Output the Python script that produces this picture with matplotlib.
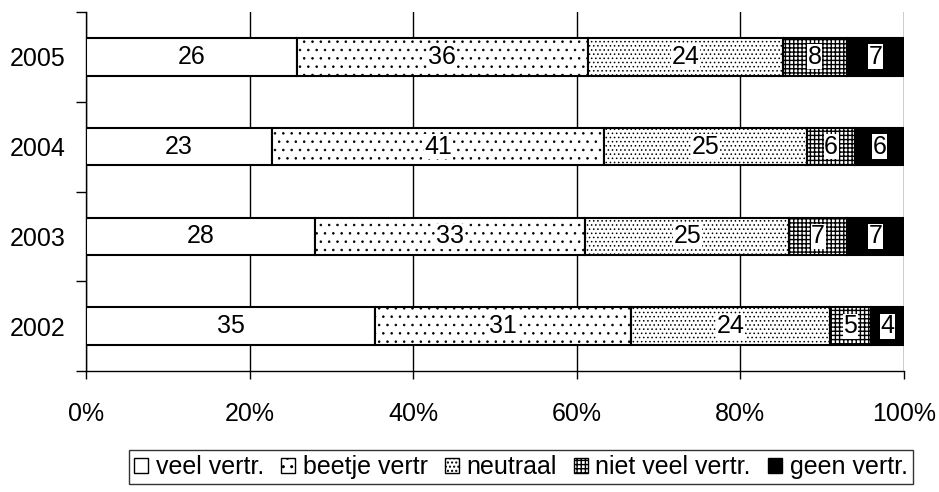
import numpy as np
import matplotlib
matplotlib.use("Agg")
import matplotlib.pyplot as plt
from matplotlib.patches import Patch

plt.rcParams["font.family"] = ["Liberation Sans", "DejaVu Sans"]

years = ["2002", "2003", "2004", "2005"]
categories = ["veel vertr.", "beetje vertr", "neutraal", "niet veel vertr.", "geen vertr."]
veel = [35, 28, 23, 26]
beetje = [31, 33, 41, 36]
neutraal = [24, 25, 25, 24]
niet_veel = [5, 7, 6, 8]
geen = [4, 7, 6, 7]

series = [veel, beetje, neutraal, niet_veel, geen]
colors = ["white", "white", "white", "white", "black"]
hatches = [None, "..", "....", "++++", None]
hatch_lw = [1.0, 0.6, 0.6, 1.0, 1.0]

FS = 18

fig = plt.figure(figsize=(9.39, 4.92), dpi=100)
ax = fig.add_axes([86 / 939, 1 - 371 / 492, 818 / 939, 359 / 492])

values = np.array(series, dtype=float)
totals = values.sum(axis=0)
pct = values / totals * 100
left = np.zeros(len(years))
y = np.arange(len(years))

for i, name in enumerate(categories):
    with plt.rc_context({"hatch.linewidth": hatch_lw[i]}):
        bars = ax.barh(y, pct[i], left=left, height=0.42, color=colors[i],
                       edgecolor="black", linewidth=1.5, hatch=hatches[i],
                       label=name, zorder=3)
    for b in bars:
        try:
            b.set_hatch_linewidth(hatch_lw[i])
        except AttributeError:
            pass
    for j in range(len(years)):
        ax.text(left[j] + pct[i][j] / 2, y[j], str(int(values[i][j])),
                ha="center", va="center", fontsize=FS, zorder=5,
                bbox=dict(facecolor="white", edgecolor="none", pad=0.3))
    left += pct[i]

ax.set_xlim(0, 100)
ax.set_ylim(-0.5, 3.5)
ax.set_xticks(np.arange(0, 101, 20))
ax.set_xticklabels([f"{v}%" for v in range(0, 101, 20)], fontsize=FS)
ax.set_yticks(np.arange(-0.5, 3.6, 1))
ax.set_yticklabels([])
ax.set_yticks(y, minor=True)
ax.set_yticklabels(years, minor=True, fontsize=FS)
ax.tick_params(axis="y", which="minor", length=0, pad=15)
ax.tick_params(axis="y", which="major", length=7, width=1, direction="out")
ax.tick_params(axis="x", length=6, width=1, direction="out", pad=16)
ax.xaxis.grid(True, color="black", linewidth=1, zorder=0)
for s in ["top", "right"]:
    ax.spines[s].set_visible(False)
ax.spines["left"].set_linewidth(1)
ax.spines["bottom"].set_linewidth(1)

handles = []
for i in range(5):
    with plt.rc_context({"hatch.linewidth": hatch_lw[i]}):
        p = Patch(facecolor=colors[i], edgecolor="black", hatch=hatches[i],
                  linewidth=1, label=categories[i])
    handles.append(p)
leg = fig.legend(handles=handles, loc="center", ncol=5,
                 bbox_to_anchor=(521 / 939, 1 - 467 / 492), fontsize=FS,
                 frameon=True, fancybox=False, edgecolor="black",
                 handlelength=0.55, handleheight=0.55, handletextpad=0.3,
                 columnspacing=0.7, borderpad=0.2, borderaxespad=0)
leg.get_frame().set_linewidth(1)

fig.savefig("out.png", dpi=100)
